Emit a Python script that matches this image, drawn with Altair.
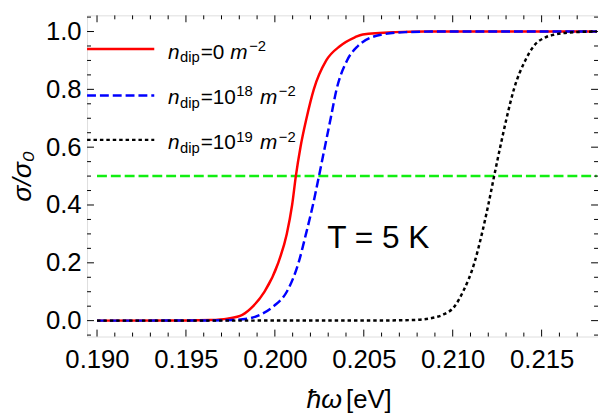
import altair as alt
import pandas as pd

# ---------------- data ----------------
x_red = [0.1900, 0.1950, 0.19639, 0.19733, 0.19817, 0.19878, 0.19942, 0.20019, 0.20067, 0.20097,
         0.20118, 0.20144, 0.20178, 0.20219, 0.20289, 0.20367, 0.20450, 0.20494, 0.20678,
         0.20844, 0.2181]
y_red = [0.0, 0.0004, 0.002, 0.007, 0.02, 0.05, 0.10, 0.20, 0.30, 0.40,
         0.50, 0.60, 0.70, 0.80, 0.90, 0.95, 0.98, 0.99, 0.998,
         1.0, 1.0]

x_blue = [0.1900, 0.1950, 0.19761, 0.19872, 0.19917, 0.19994, 0.20067, 0.20133, 0.20175, 0.20214,
          0.20248, 0.20281, 0.20314, 0.20347, 0.20406, 0.20467, 0.20544, 0.20606, 0.20733,
          0.20900, 0.2181]
y_blue = [0.0, 0.0002, 0.002, 0.01, 0.02, 0.05, 0.10, 0.20, 0.30, 0.40,
          0.50, 0.60, 0.70, 0.80, 0.90, 0.95, 0.98, 0.99, 0.998,
          1.0, 1.0]

x_black = [0.1900, 0.2050, 0.20772, 0.20889, 0.20944, 0.21011, 0.21058, 0.21122, 0.21164, 0.21200,
           0.21233, 0.21267, 0.21303, 0.21344, 0.21408, 0.21456, 0.21522, 0.21578, 0.21694,
           0.2181]
y_black = [0.0, 0.0002, 0.002, 0.01, 0.02, 0.05, 0.10, 0.20, 0.30, 0.40,
           0.50, 0.60, 0.70, 0.80, 0.90, 0.95, 0.98, 0.99, 0.998,
           1.0]

x_half = [0.1900, 0.2181]
y_half = [0.5, 0.5]

x_major_ticks = [0.190, 0.195, 0.200, 0.205, 0.210, 0.215]
x_minor_ticks = [0.191, 0.192, 0.193, 0.194, 0.196, 0.197, 0.198, 0.199,
                 0.201, 0.202, 0.203, 0.204, 0.206, 0.207, 0.208, 0.209,
                 0.211, 0.212, 0.213, 0.214, 0.216, 0.217]
y_major_ticks = [0.0, 0.2, 0.4, 0.6, 0.8, 1.0]
y_minor_ticks = [-0.05, 0.05, 0.10, 0.15, 0.25, 0.30, 0.35, 0.45, 0.50, 0.55,
                 0.65, 0.70, 0.75, 0.85, 0.90, 0.95, 1.05]

y_title = "σ/σ₀"
x_title_parts = ["ħω", "[eV]"]
annotation = "T = 5 K"
legend_rows = [
    ["n", "dip", "=0", "", "m", "−2"],
    ["n", "dip", "=10", "18", "m", "−2"],
    ["n", "dip", "=10", "19", "m", "−2"],
]

# ---------------- layout / style ----------------
W, H = 517, 325
FONT = "Liberation Sans"
xs = alt.Scale(domain=[0.18944, 0.21817], nice=False, zero=False)
ys = alt.Scale(domain=[-0.055, 1.056], nice=False, zero=False)
one = pd.DataFrame({"k": [0]})

XA = alt.Axis(values=x_major_ticks, format=".3f", ticks=False, tickSize=0, domain=False,
              grid=False, labelFontSize=26, labelFont=FONT, labelColor="black",
              labelPadding=10, labelOverlap=False, labelFlush=False, title=None)
YA = alt.Axis(values=y_major_ticks, format=".1f", ticks=False, tickSize=0, domain=False,
              grid=False, labelFontSize=26, labelFont=FONT, labelColor="black",
              labelPadding=6, labelOverlap=False, labelFlush=False,
              title=y_title, titleFont=FONT, titleFontSize=27, titleFontStyle="italic",
              titleFontWeight="normal", titleColor="black", titlePadding=9)


def line_layer(xv, yv, color, dash=None, width=2.5):
    df = pd.DataFrame({"x": xv, "y": yv})
    kw = dict(color=color, strokeWidth=width, interpolate="monotone", clip=True)
    if dash:
        kw["strokeDash"] = dash
    return alt.Chart(df).mark_line(**kw).encode(
        x=alt.X("x:Q", scale=xs, axis=XA, title=None),
        y=alt.Y("y:Q", scale=ys, axis=YA, title=y_title),
    )


def xtick_layer(vals, length, top):
    df = pd.DataFrame({"v": vals})
    y0, y1 = (0, length) if top else (H, H - length)
    return alt.Chart(df).mark_rule(color="black", strokeWidth=1).encode(
        x=alt.X("v:Q", scale=xs, axis=XA, title=None), y=alt.value(y0), y2=alt.value(y1))


def ytick_layer(vals, length, right):
    df = pd.DataFrame({"v": vals})
    x0, x1 = (W, W - length) if right else (0, length)
    return alt.Chart(df).mark_rule(color="black", strokeWidth=1).encode(
        y=alt.Y("v:Q", scale=ys, axis=YA, title=y_title), x=alt.value(x0), x2=alt.value(x1))


def text_layer(txt, px, py, size, style="normal", align="left"):
    df = pd.DataFrame({"t": [txt]})
    return alt.Chart(df).mark_text(align=align, baseline="alphabetic", font=FONT, fontSize=size,
                                   fontStyle=style, color="black").encode(
        x=alt.value(px), y=alt.value(py), text="t:N")


def legend_line(py, color, dash=None):
    kw = dict(color=color, strokeWidth=2.5)
    if dash:
        kw["strokeDash"] = dash
    return alt.Chart(one).mark_rule(**kw).encode(
        x=alt.value(0), x2=alt.value(68), y=alt.value(py))


layers = []
layers.append(line_layer(x_half, y_half, "#11ee11", dash=[10, 4]))
layers.append(line_layer(x_red, y_red, "#ff0000"))
layers.append(line_layer(x_blue, y_blue, "#0000ff", dash=[9, 4]))
layers.append(line_layer(x_black, y_black, "#000000", dash=[3.5, 3]))

# frame ticks (inside)
layers += [xtick_layer(x_major_ticks, 7, False), xtick_layer(x_minor_ticks, 4, False),
           xtick_layer(x_major_ticks, 7, True), xtick_layer(x_minor_ticks, 4, True),
           ytick_layer(y_major_ticks, 7, False), ytick_layer(y_minor_ticks, 4, False),
           ytick_layer(y_major_ticks, 7, True), ytick_layer(y_minor_ticks, 4, True)]

# legend
legend_styles = [("#ff0000", None), ("#0000ff", [9, 4]), ("#000000", [3.5, 3])]
line_ys = [34, 81, 126]
base_ys = [43.7, 89.7, 135.7]
piece_x = [
    [82, 94, 115, 0, 145, 164],
    [82, 94, 115, 151, 175, 194],
    [82, 94, 115, 151, 175, 194],
]
for i, parts in enumerate(legend_rows):
    col, dash = legend_styles[i]
    layers.append(legend_line(line_ys[i], col, dash))
    b = base_ys[i]
    px = piece_x[i]
    layers.append(text_layer(parts[0], px[0], b, 21, "italic"))
    layers.append(text_layer(parts[1], px[1], b + 4, 15))
    layers.append(text_layer(parts[2], px[2], b, 21))
    if parts[3]:
        layers.append(text_layer(parts[3], px[3], b - 8, 15))
    layers.append(text_layer(parts[4], px[4], b, 21, "italic"))
    layers.append(text_layer(parts[5], px[5], b - 8, 15))

# annotation and x title
layers.append(text_layer(annotation, 243, 235, 32))
layers.append(text_layer(x_title_parts[0], 258, 397, 27, "italic", align="right"))
layers.append(text_layer(x_title_parts[1], 262, 397, 26))

chart = alt.layer(*layers).properties(
    width=W, height=H,
    autosize=alt.AutoSizeParams(type="none"),
    padding={"left": 80, "top": 5, "right": 0, "bottom": 80},
).configure_view(stroke="black", strokeWidth=1).configure(background="white")

chart.save("out.html", embed_options={"renderer": "svg", "actions": False})
